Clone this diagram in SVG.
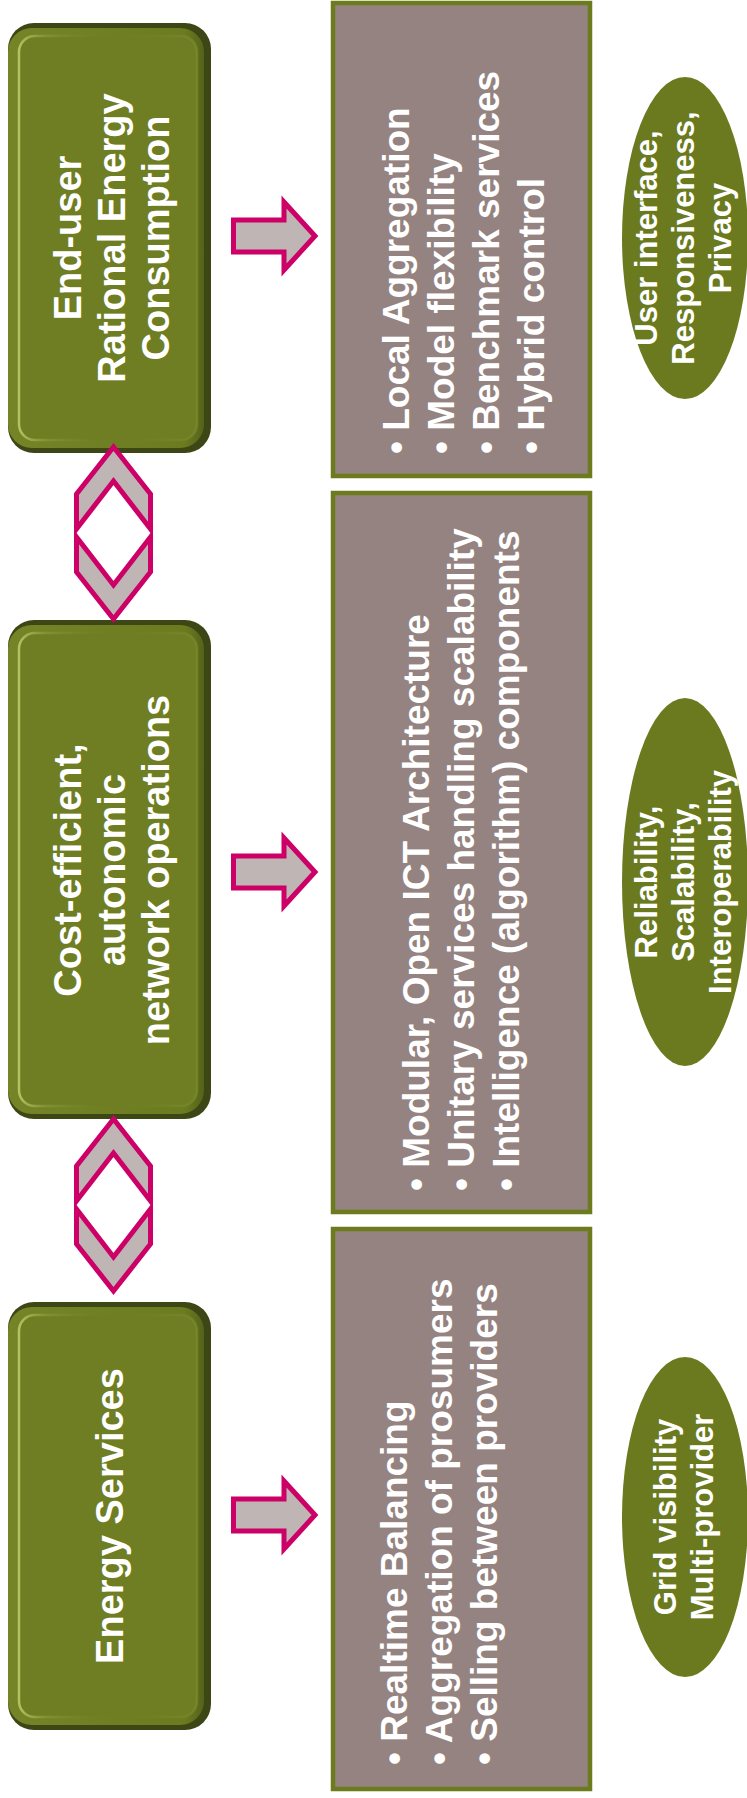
<svg xmlns="http://www.w3.org/2000/svg" width="747" height="1798" viewBox="0 0 747 1798">
<defs>
<linearGradient id="hl" x1="0" y1="0" x2="1" y2="0">
<stop offset="0" stop-color="#B3C263"/>
<stop offset="0.15" stop-color="#8D9C3C" stop-opacity="0.6"/>
<stop offset="0.5" stop-color="#6F7E23" stop-opacity="0"/>
<stop offset="1" stop-color="#7F8E30" stop-opacity="0.6"/>
</linearGradient>
<linearGradient id="rim" x1="0" y1="0" x2="1" y2="0">
<stop offset="0" stop-color="#758427"/>
<stop offset="0.9" stop-color="#6C7B20"/>
<stop offset="1" stop-color="#55631A"/>
</linearGradient>
<style>
.gOuter{fill:#3D4615}
.gRim{fill:url(#rim)}
.gFace{fill:#6F7E23;stroke:url(#hl);stroke-width:2.5}
.title{font-family:"Liberation Sans",Arial,sans-serif;font-weight:bold;font-size:38px;fill:#FFFFFF;text-anchor:middle}
.panel{fill:#958381;stroke:#6B7B1E;stroke-width:4.5}
.item{font-family:"Liberation Sans",Arial,sans-serif;font-weight:bold;font-size:37px;fill:#FFFFFF}
.oval{fill:#6B7A1E}
.ovalText{font-family:"Liberation Sans",Arial,sans-serif;font-weight:bold;font-size:31px;fill:#FFFFFF;text-anchor:middle}
.arrow{fill:#BEB5B4;stroke:#CC0066;stroke-width:5;stroke-linejoin:miter}
</style>
</defs>
<rect width="747" height="1798" fill="#FFFFFF"/>

<g id="node-enduser">
<rect class="gOuter" x="8" y="23" width="203" height="430" rx="26"/>
<rect class="gRim" x="8" y="28" width="196" height="420" rx="24"/>
<rect class="gFace" x="19" y="36" width="178" height="404" rx="16"/>
<g transform="translate(0,238) rotate(-90)">
<text class="title" x="0" y="81">End-user</text>
<text class="title" x="0" y="125">Rational Energy</text>
<text class="title" x="0" y="169">Consumption</text>
</g>
</g>

<g id="node-network">
<rect class="gOuter" x="8" y="620" width="203" height="499" rx="26"/>
<rect class="gRim" x="8" y="625" width="196" height="489" rx="24"/>
<rect class="gFace" x="19" y="633" width="178" height="473" rx="16"/>
<g transform="translate(0,870) rotate(-90)">
<text class="title" x="0" y="81">Cost-efficient,</text>
<text class="title" x="0" y="125">autonomic</text>
<text class="title" x="0" y="169">network operations</text>
</g>
</g>

<g id="node-energy">
<rect class="gOuter" x="8" y="1302" width="203" height="428" rx="26"/>
<rect class="gRim" x="8" y="1307" width="196" height="418" rx="24"/>
<rect class="gFace" x="19" y="1315" width="178" height="402" rx="16"/>
<g transform="translate(0,1516) rotate(-90)">
<text class="title" x="0" y="123">Energy Services</text>
</g>
</g>

<g id="panel-enduser">
<rect class="panel" x="333" y="3" width="257" height="473"/>
<text class="item" transform="translate(409,454) rotate(-90)">• Local Aggregation</text>
<text class="item" transform="translate(454,454) rotate(-90)">• Model flexibility</text>
<text class="item" transform="translate(499,454) rotate(-90)">• Benchmark services</text>
<text class="item" transform="translate(544,454) rotate(-90)">• Hybrid control</text>
</g>

<g id="panel-network">
<rect class="panel" x="333" y="493" width="257" height="719"/>
<text class="item" transform="translate(429,1191) rotate(-90)">• Modular, Open ICT Architecture</text>
<text class="item" transform="translate(474,1191) rotate(-90)">• Unitary services handling scalability</text>
<text class="item" transform="translate(519,1191) rotate(-90)">• Intelligence (algorithm) components</text>
</g>

<g id="panel-energy">
<rect class="panel" x="333" y="1229" width="257" height="560"/>
<text class="item" transform="translate(407,1765) rotate(-90)">• Realtime Balancing</text>
<text class="item" transform="translate(452,1765) rotate(-90)">• Aggregation of prosumers</text>
<text class="item" transform="translate(497,1765) rotate(-90)">• Selling between providers</text>
</g>

<g id="oval-enduser">
<ellipse class="oval" cx="685" cy="238" rx="63" ry="161"/>
<g transform="translate(0,238) rotate(-90)">
<text class="ovalText" x="0" y="657">User interface,</text>
<text class="ovalText" x="0" y="694">Responsiveness,</text>
<text class="ovalText" x="0" y="731">Privacy</text>
</g>
</g>

<g id="oval-network">
<ellipse class="oval" cx="685" cy="882" rx="63" ry="184"/>
<g transform="translate(0,882) rotate(-90)">
<text class="ovalText" x="0" y="657">Reliability,</text>
<text class="ovalText" x="0" y="694">Scalability,</text>
<text class="ovalText" x="0" y="731">Interoperability</text>
</g>
</g>

<g id="oval-energy">
<ellipse class="oval" cx="685" cy="1517" rx="63" ry="160"/>
<g transform="translate(0,1517) rotate(-90)">
<text class="ovalText" x="0" y="676">Grid visibility</text>
<text class="ovalText" x="0" y="713">Multi-provider</text>
</g>
</g>

<g id="connectors">
<path class="arrow" d="M233.5,220 L284,220 L284,202 L315,236 L284,270 L284,252 L233.5,252 Z"/>
<path class="arrow" d="M233.5,856 L284,856 L284,838 L315,872 L284,906 L284,888 L233.5,888 Z"/>
<path class="arrow" d="M233.5,1499 L284,1499 L284,1481 L315,1515 L284,1549 L284,1531 L233.5,1531 Z"/>
<path class="arrow" d="M113.5,447 L150.5,494 L150.5,529 L113.5,481 L76.5,529 L76.5,494 Z"/>
<path class="arrow" d="M113.5,619 L150.5,572 L150.5,537 L113.5,585 L76.5,537 L76.5,572 Z"/>
<path class="arrow" d="M113.5,1119 L150.5,1166 L150.5,1201 L113.5,1153 L76.5,1201 L76.5,1166 Z"/>
<path class="arrow" d="M113.5,1291 L150.5,1244 L150.5,1209 L113.5,1257 L76.5,1209 L76.5,1244 Z"/>
</g>
</svg>
